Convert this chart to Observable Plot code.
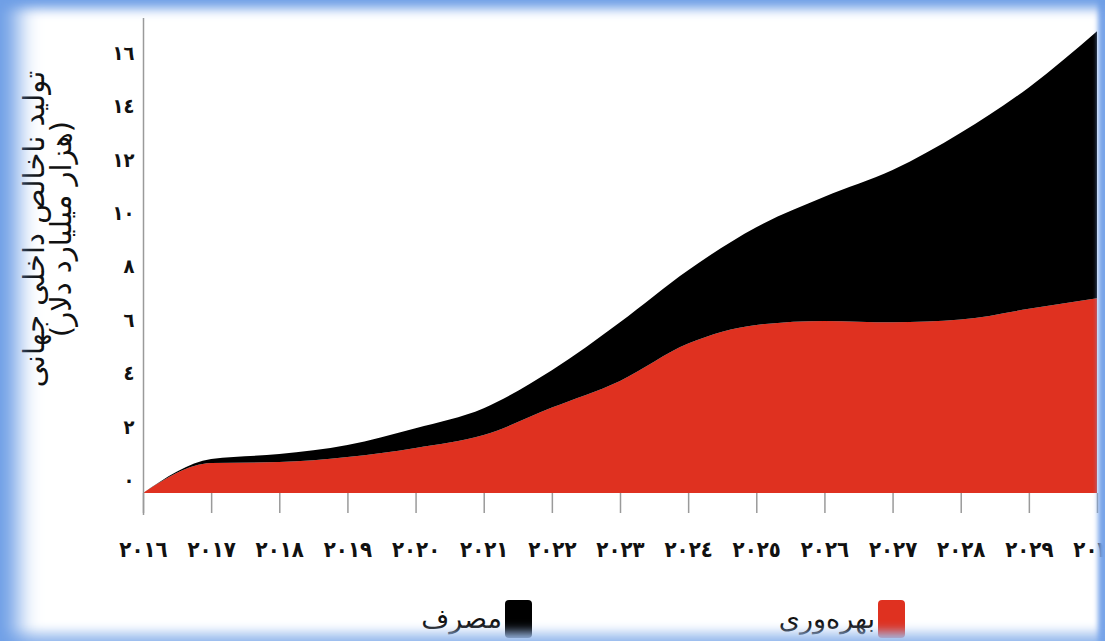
<!DOCTYPE html>
<html>
<head>
<meta charset="utf-8">
<script src="https://cdn.jsdelivr.net/npm/d3@7"></script>
<script src="https://cdn.jsdelivr.net/npm/@observablehq/plot@0.6"></script>
<style>
  html, body { margin: 0; padding: 0; background: #fff; }
  #wrap { position: relative; width: 1105px; height: 641px; overflow: hidden; background: #fff; }
  #frame { position: absolute; left: 0; top: 0; width: 1105px; height: 641px; pointer-events: none;
    box-shadow: inset 26px 0 22px -8px #6f9fe6, inset 0 14px 12px -6px #6f9fe6,
                inset -10px 0 5px -3px #7aa6ea, inset 0 -14px 12px -6px #a9c6f0; }
  #legend { position: relative; height: 51px; width: 1105px; font-family: "DejaVu Sans", sans-serif; }
  .item { position: absolute; top: 10px; display: flex; align-items: center; gap: 3px; }
  .item span { font-size: 27px; color: #111; line-height: 38px; }
  .sw { width: 27px; height: 38px; border-radius: 4px; }
</style>
</head>
<body>
<div id="wrap">
  <div id="chart"></div>
  <div id="legend"></div>
  <div id="frame"></div>
</div>
<script>
// Years (x axis)
const years = [2016, 2017, 2018, 2019, 2020, 2021, 2022, 2023, 2024, 2025, 2026, 2027, 2028, 2029, 2030];
// Series names
const seriesProductivity = "بهره‌وری";
const seriesConsumption = "مصرف";
// Values (thousand billion dollars), stacked: productivity at bottom, consumption on top
const productivity = [0, 1.12, 1.16, 1.35, 1.69, 2.17, 3.2, 4.2, 5.6, 6.3, 6.45, 6.4, 6.5, 6.9, 7.3];
const consumption  = [0, 0.15, 0.3, 0.45, 0.74, 1.01, 1.4, 2.2, 2.75, 3.66, 4.65, 5.7, 7.0, 8.3, 10.0];
// Y ticks
const yTicks = [0, 2, 4, 6, 8, 10, 12, 14, 16];
const yLabel = "تولید ناخالص داخلی جهانی\n(هزار میلیارد دلار)";

const colors = {[seriesProductivity]: "#df3120", [seriesConsumption]: "#000000"};

const arabicDigits = "٠١٢٣٤٥٦٧٨٩";
const toArabic = v => String(v).replace(/\d/g, d => arabicDigits[d]);

const data = [];
years.forEach((yr, i) => {
  data.push({year: yr, value: productivity[i], series: seriesProductivity});
  data.push({year: yr, value: consumption[i], series: seriesConsumption});
});

const chart = Plot.plot({
  width: 1105,
  height: 590,
  marginLeft: 143,
  marginRight: 8,
  marginTop: 26,
  marginBottom: 97,
  style: {fontFamily: "DejaVu Sans Condensed, DejaVu Sans, sans-serif", background: "transparent", overflow: "visible"},
  x: {domain: [years[0], years[years.length - 1]]},
  y: {domain: [0, 17.5]},
  color: {domain: [seriesProductivity, seriesConsumption], range: [colors[seriesProductivity], colors[seriesConsumption]]},
  marks: [
    Plot.areaY(data, {x: "year", y: "value", fill: "series", order: [seriesProductivity, seriesConsumption], curve: "monotone-x"}),
    Plot.ruleX([years[0]], {stroke: "#9a9a9a", strokeWidth: 1.5, insetTop: -8, insetBottom: -22}),
    Plot.axisX({ticks: years, tickFormat: toArabic, tickSize: 20, tickPadding: 28, stroke: "#9a9a9a", strokeWidth: 1.5,
      fontSize: 22, fontWeight: "bold", fill: "#111", label: null}),
    Plot.axisY({ticks: yTicks, tickFormat: toArabic, tickSize: 0, tickPadding: 9, dy: -13,
      fontSize: 20, fontWeight: "bold", fill: "#111", label: null}),
    Plot.text([yLabel], {frameAnchor: "left", textAnchor: "middle", text: d => d, rotate: -90, dx: -95, dy: -31,
      fontSize: 29, lineHeight: 0.95, fill: "#111", fontFamily: "DejaVu Sans, sans-serif"})
  ]
});
document.getElementById("chart").appendChild(chart);

const legend = document.getElementById("legend");
[[seriesProductivity, 200], [seriesConsumption, 573]].forEach(([name, right]) => {
  const it = document.createElement("div");
  it.className = "item";
  it.style.right = right + "px";
  const t = document.createElement("span");
  t.textContent = name;
  const sw = document.createElement("div");
  sw.className = "sw";
  sw.style.background = colors[name];
  it.appendChild(t);
  it.appendChild(sw);
  legend.appendChild(it);
});
</script>
</body>
</html>
